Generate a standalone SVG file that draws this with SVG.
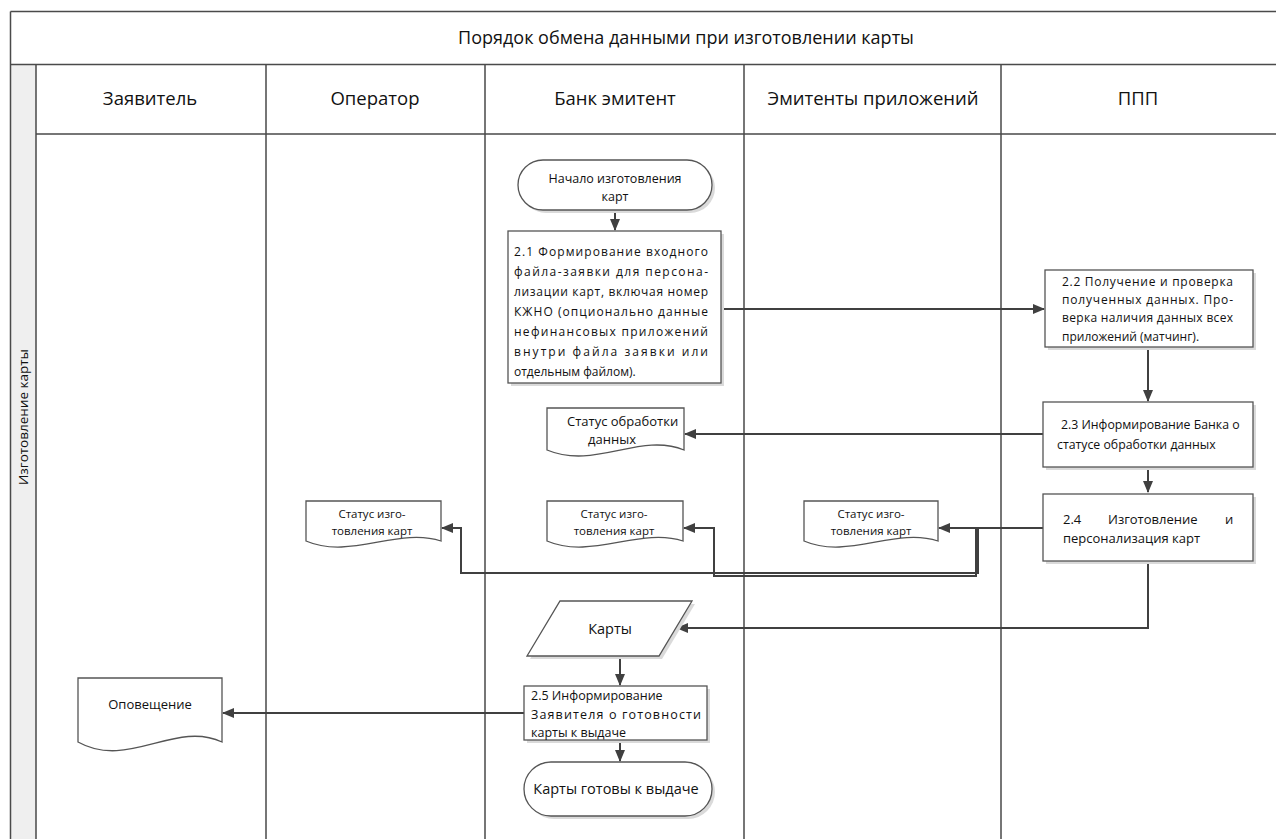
<svg xmlns="http://www.w3.org/2000/svg" width="1276" height="839" viewBox="0 0 1276 839">
<style>
.lane{stroke:#4a4a4a;stroke-width:1.5;fill:none}
.box{fill:#ffffff;stroke:#555555;stroke-width:1.3}
.sh{fill:#dadada;stroke:none}
.con{stroke:#404040;stroke-width:2;fill:none}
.arr{stroke:#404040;stroke-width:2;fill:none;marker-end:url(#ah)}
.t{font-family:"Open Sans","Liberation Sans",sans-serif;fill:#111111}
.h{font-size:18.5px;text-anchor:middle}
.n{font-size:12px}
.s{font-size:11.5px;text-anchor:middle}
.c{text-anchor:middle}
</style>
<defs>
<marker id="ah" markerUnits="userSpaceOnUse" markerWidth="12" markerHeight="10" refX="11" refY="5" orient="auto">
<path d="M0,0 L12,5 L0,10 Z" fill="#404040"/>
</marker>
</defs>
<rect width="1276" height="839" fill="#ffffff"/>
<g id="pool">
<rect x="10" y="64" width="26" height="780" fill="#efefef"/>
<path class="lane" d="M10.5,11.5 H1276 M10.5,11.5 V839 M10.5,64.5 H1276 M36,64.5 V839 M36,134 H1276 M266,64.5 V839 M485,64.5 V839 M744,64.5 V839 M1001,64.5 V839"/>
<text class="t" font-size="18" text-anchor="middle" x="686" y="44">Порядок обмена данными при изготовлении карты</text>
<text class="t h" x="150" y="105">Заявитель</text>
<text class="t h" x="375" y="105">Оператор</text>
<text class="t h" x="615" y="105">Банк эмитент</text>
<text class="t h" x="873" y="105">Эмитенты приложений</text>
<text class="t h" x="1138" y="105">ППП</text>
<text class="t" font-size="13.5" text-anchor="middle" transform="translate(28,417) rotate(-90)">Изготовление карты</text>
</g>
<g id="connectors">
<path class="arr" d="M615,210 V230"/>
<path class="arr" d="M721,309 H1044"/>
<path class="arr" d="M1148,350 V401"/>
<path class="arr" d="M1043,434 H685"/>
<path class="arr" d="M1148,468 V492"/>
<path class="arr" d="M1043,528 H939"/>
<path class="arr" d="M1043,528 H976 V576 H714 V528 H684"/>
<path class="arr" d="M1043,528 H978 V573 H461 V528 H442"/>
<path class="arr" d="M1148,561 V628 H677"/>
<path class="arr" d="M620,656 V685"/>
<path class="arr" d="M620,740 V761"/>
<path class="arr" d="M524,713 H223"/>
</g>
<g id="start">
<rect class="sh" x="521" y="163" width="194" height="50" rx="25"/>
<rect class="box" x="518" y="160" width="194" height="50" rx="25"/>
<text class="t c" font-size="12.5" x="615" y="183">Начало  изготовления</text>
<text class="t c" font-size="12.5" x="615" y="201">карт</text>
</g>
<g id="n21">
<rect class="sh" x="511" y="234" width="213" height="152"/>
<rect class="box" x="508" y="231" width="213" height="152"/>
<g class="t n">
<text x="514" y="256" textLength="194" lengthAdjust="spacing">2.1 Формирование входного</text>
<text x="514" y="276" textLength="194" lengthAdjust="spacing">файла-заявки для персона-</text>
<text x="514" y="296" textLength="194" lengthAdjust="spacing">лизации карт, включая номер</text>
<text x="514" y="316" textLength="194" lengthAdjust="spacing">КЖНО (опционально данные</text>
<text x="514" y="336" textLength="194" lengthAdjust="spacing">нефинансовых приложений</text>
<text x="514" y="356" textLength="194" lengthAdjust="spacing">внутри файла заявки или</text>
<text x="514" y="376">отдельным  файлом).</text>
</g>
</g>
<g id="n22">
<rect class="sh" x="1048" y="273" width="208" height="77"/>
<rect class="box" x="1045" y="270" width="208" height="77"/>
<g class="t n">
<text x="1062" y="286" textLength="171" lengthAdjust="spacing">2.2 Получение и проверка</text>
<text x="1062" y="304" textLength="171" lengthAdjust="spacing">полученных данных. Про-</text>
<text x="1062" y="322" textLength="171" lengthAdjust="spacing">верка наличия данных всех</text>
<text x="1062" y="341">приложений (матчинг).</text>
</g>
</g>
<g id="n23">
<rect class="sh" x="1046" y="405" width="210" height="65"/>
<rect class="box" x="1043" y="402" width="210" height="65"/>
<g class="t" font-size="12.3">
<text x="1061" y="429">2.3 Информирование Банка о</text>
<text x="1057" y="449">статусе обработки данных</text>
</g>
</g>
<g id="n24">
<rect class="sh" x="1046" y="497" width="210" height="67"/>
<rect class="box" x="1043" y="494" width="210" height="67"/>
<g class="t" font-size="13">
<text x="1063" y="524">2.4</text>
<text x="1108" y="524">Изготовление</text>
<text x="1225" y="524">и</text>
<text x="1063" y="543">персонализация  карт</text>
</g>
</g>
<g id="doc-status-data">
<path class="box" d="M547,408 H684 V450 C640,432 595,470 547,450 Z"/>
<text class="t" font-size="13" x="567" y="426">Статус обработки</text>
<text class="t" font-size="13" x="588" y="444">данных</text>
</g>
<g id="doc-op">
<path class="box" d="M306,501 H441 V541 C398,527 350,560 306,541 Z"/>
<text class="t s" x="372" y="518">Статус изго-</text>
<text class="t s" x="372" y="535">товления  карт</text>
</g>
<g id="doc-bank">
<path class="box" d="M547,501 H683 V541 C640,527 591,560 547,541 Z"/>
<text class="t s" x="614" y="518">Статус изго-</text>
<text class="t s" x="614" y="535">товления  карт</text>
</g>
<g id="doc-emit">
<path class="box" d="M804,501 H938 V541 C895,527 848,560 804,541 Z"/>
<text class="t s" x="871" y="518">Статус изго-</text>
<text class="t s" x="871" y="535">товления  карт</text>
</g>
<g id="cards">
<path class="sh" d="M563,604 H695 L662,659 H530 Z"/>
<path class="box" d="M560,601 H692 L659,656 H527 Z"/>
<text class="t c" font-size="14.5" x="610" y="634">Карты</text>
</g>
<g id="n25">
<rect class="sh" x="527" y="689" width="183" height="54"/>
<rect class="box" x="524" y="686" width="183" height="54"/>
<g class="t" font-size="12.5">
<text x="531" y="700">2.5 Информирование</text>
<text x="531" y="719" textLength="170" lengthAdjust="spacing">Заявителя о готовности</text>
<text x="531" y="737">карты к выдаче</text>
</g>
</g>
<g id="end">
<rect class="sh" x="527" y="765" width="188" height="54" rx="27"/>
<rect class="box" x="524" y="762" width="188" height="54" rx="27"/>
<text class="t c" font-size="14.5" x="616" y="794">Карты готовы к выдаче</text>
</g>
<g id="doc-notify">
<path class="box" d="M78,678 H222 V742 C175,720 128,770 78,742 Z"/>
<text class="t c" font-size="13" x="150" y="709">Оповещение</text>
</g>
</svg>
